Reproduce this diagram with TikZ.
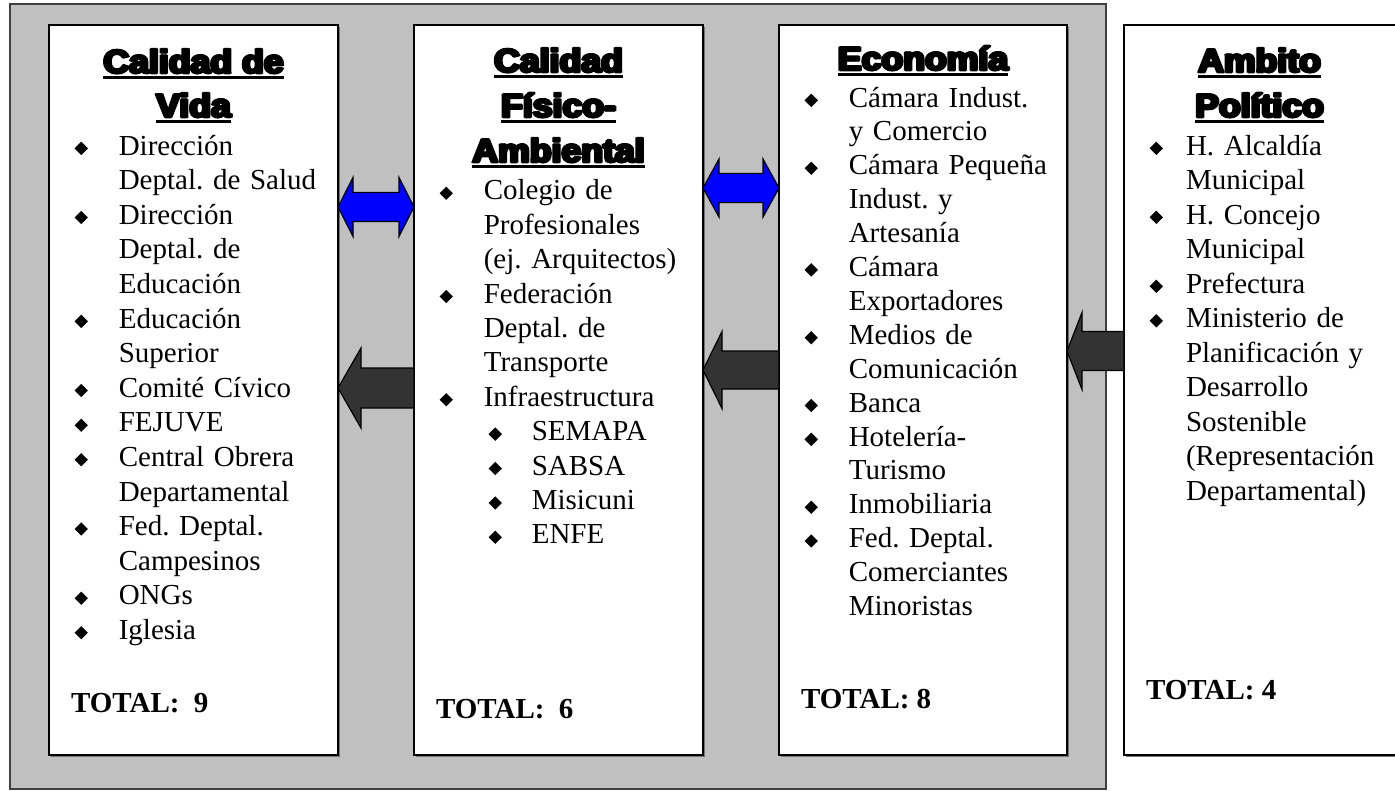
\documentclass[tikz,border=0pt]{standalone}
\usepackage{fontspec}
\setmainfont{Liberation Serif}
\newfontfamily\hdrfont{Liberation Sans}[FakeStretch=1.08, BoldFeatures={FakeBold=4}]
\usetikzlibrary{calc,shadows}
\definecolor{bggray}{HTML}{C0C0C0}
\definecolor{bgline}{HTML}{404040}
\definecolor{arrdark}{HTML}{333333}
\definecolor{arrblue}{HTML}{0000FF}
\frenchspacing
\newlength\bulw
\setlength\bulw{44.2pt}
\newcommand\bul{\rotatebox{45}{\rule{9.4pt}{9.4pt}}}
\newcommand\bi{\makebox[\bulw][l]{\bul}}
\newcommand\ci{\hspace*{\bulw}}
\newcommand\si{\hspace*{49pt}\makebox[43.2pt][l]{\bul}}
\newcommand\heavy[1]{\rlap{\hspace*{1.1pt}#1}\rlap{\hspace*{-1.1pt}#1}%
  \rlap{\raisebox{0.6pt}{#1}}\rlap{\raisebox{-0.6pt}{#1}}#1}
\newcommand\hul[1]{\setbox0\hbox{#1}\rlap{\rule[-6pt]{\wd0}{2.8pt}}\heavy{#1}}
\newcommand\dblarr[5]{% L, R, head length, head half, shaft half
  \filldraw[bluearr] (#1) -- ($(#1)+(#3,-#4)$) -- ($(#1)+(#3,-#5)$) -- ($(#2)+(-#3,-#5)$)
  -- ($(#2)+(-#3,-#4)$) -- (#2) -- ($(#2)+(-#3,#4)$) -- ($(#2)+(-#3,#5)$)
  -- ($(#1)+(#3,#5)$) -- ($(#1)+(#3,#4)$) -- cycle;}
\newcommand\lftarr[5]{% tip, tail, head length, head half, shaft half
  \filldraw[darkarr] (#1) -- ($(#1)+(#3,-#4)$) -- ($(#1)+(#3,-#5)$) -- ($(#2)+(0,-#5)$)
  -- ($(#2)+(0,#5)$) -- ($(#1)+(#3,#5)$) -- ($(#1)+(#3,#4)$) -- cycle;}
\begin{document}
\begin{tikzpicture}[x=1pt,y=-1pt,
  bgbox/.style={draw=bgline, fill=bggray, line width=2.5pt, inner sep=0, outer sep=0,
    anchor=north west, minimum width=1096pt, minimum height=785pt},
  colbox/.style={draw=black, fill=white, line width=1.8pt, inner sep=0, outer sep=0,
    anchor=north west, minimum height=730pt,
    drop shadow={shadow xshift=1.5pt, shadow yshift=-1.5pt, fill=black!55, opacity=1}},
  hdr/.style={inner sep=0, outer sep=0, anchor=base,
    font=\hdrfont\bfseries\fontsize{33}{44}\selectfont},
  lst/.style={inner sep=0, outer sep=0, anchor=north west, align=left, text width=300pt,
    font=\fontsize{29}{34.6}\selectfont},
  tot/.style={inner sep=0, outer sep=0, anchor=base west,
    font=\bfseries\fontsize{29}{34.8}\selectfont},
  bluearr/.style={fill=arrblue, draw=black, line width=1.2pt, line join=miter},
  darkarr/.style={fill=arrdark, draw=black, line width=1.2pt, line join=miter}]
\useasboundingbox (0,0) rectangle (1395,790);
\fill[white] (0,0) rectangle (1395,790);
\node[bgbox] (bg) at (10,4) {};
\node[colbox, minimum width=289pt] (b1) at (49,25) {};
\node[colbox, minimum width=289pt] (b2) at (414,25) {};
\node[colbox, minimum width=288pt] (b3) at (779,25) {};
\node[colbox, minimum width=300pt] (b4) at (1124,25) {};

% headers
\node[hdr] (h1a) at (193.5,73) {\hul{Calidad de}};
\node[hdr] (h1b) at (193.5,117) {\hul{Vida}};
\node[hdr] (h2a) at (558.5,72) {\hul{Calidad}};
\node[hdr] (h2b) at (558.5,117) {\hul{Físico-}};
\node[hdr] (h2c) at (558.5,162) {\hul{Ambiental}};
\node[hdr] (h3a) at (923,70) {\hul{Economía}};
\node[hdr] (h4a) at (1259.5,72) {\hul{Ambito}};
\node[hdr] (h4b) at (1259.5,117) {\hul{Político}};

% lists
\node[lst] (l1) at (74.6,130.8) {\strut\bi Dirección\\
\ci Deptal. de Salud\\
\bi Dirección\\
\ci Deptal. de\\
\ci Educación\\
\bi Educación\\
\ci Superior\\
\bi Comité Cívico\\
\bi FEJUVE\\
\bi Central Obrera\\
\ci Departamental\\
\bi Fed. Deptal.\\
\ci Campesinos\\
\bi ONGs\\
\bi Iglesia};
\node[lst, font=\fontsize{29}{34.4}\selectfont] (l2) at (439.6,175.9) {\strut\bi Colegio de\\
\ci Profesionales\\
\ci (ej. Arquitectos)\\
\bi Federación\\
\ci Deptal. de\\
\ci Transporte\\
\bi Infraestructura\\
\si SEMAPA\\
\si SABSA\\
\si Misicuni\\
\si ENFE};
\node[lst, font=\fontsize{29}{33.9}\selectfont] (l3) at (804.6,83.3) {\strut\bi Cámara Indust.\\
\ci y Comercio\\
\bi Cámara Pequeña\\
\ci Indust. y\\
\ci Artesanía\\
\bi Cámara\\
\ci Exportadores\\
\bi Medios de\\
\ci Comunicación\\
\bi Banca\\
\bi Hotelería-\\
\ci Turismo\\
\bi Inmobiliaria\\
\bi Fed. Deptal.\\
\ci Comerciantes\\
\ci Minoristas};
\node[lst, font=\fontsize{29}{34.5}\selectfont] (l4) at (1149.6,130.85) {\setlength\bulw{36.4pt}\strut\bi H. Alcaldía\\
\ci Municipal\\
\bi H. Concejo\\
\ci Municipal\\
\bi Prefectura\\
\bi Ministerio de\\
\ci Planificación y\\
\ci Desarrollo\\
\ci Sostenible\\
\ci (Representación\\
\ci Departamental)};

% totals
\node[tot] (t1) at (71,712) {TOTAL:\ \ 9};
\node[tot] (t2) at (436,718) {TOTAL:\ \ 6};
\node[tot] (t3) at (801,708) {TOTAL: 8};
\node[tot] (t4) at (1146,699) {TOTAL: 4};

% arrows
\coordinate (a1l) at (b1.east |- 0,207);
\coordinate (a1r) at (b2.west |- 0,207);
\coordinate (a2l) at (b2.east |- 0,188);
\coordinate (a2r) at (b3.west |- 0,188);
\coordinate (d1t) at (b1.east |- 0,388);
\coordinate (d1e) at (b2.west |- 0,388);
\coordinate (d2t) at (b2.east |- 0,370);
\coordinate (d2e) at (b3.west |- 0,370);
\coordinate (d3t) at (b3.east |- 0,351);
\coordinate (d3e) at (b4.west |- 0,351);
\dblarr{a1l}{a1r}{15}{29.5}{14.5}
\dblarr{a2l}{a2r}{16}{29}{14.5}
\lftarr{d1t}{d1e}{23}{40}{20}
\lftarr{d2t}{d2e}{19}{38.5}{19}
\lftarr{d3t}{d3e}{15}{38.5}{19.5}
\end{tikzpicture}
\end{document}
